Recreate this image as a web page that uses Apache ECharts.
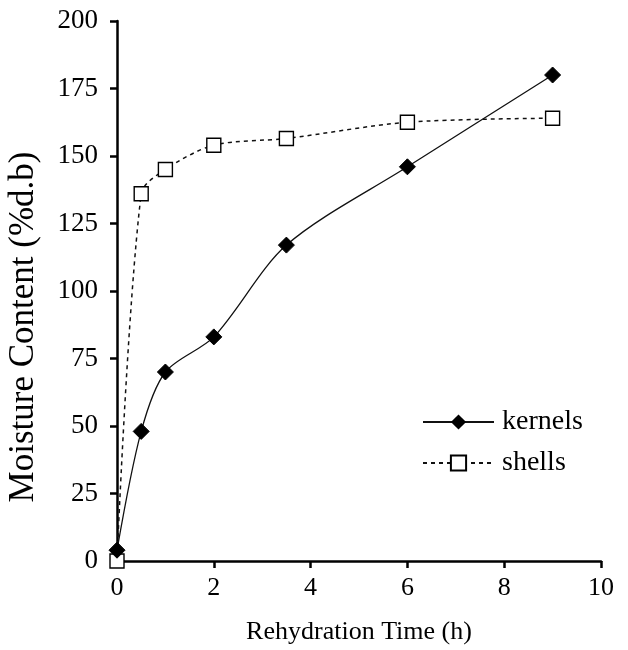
<!DOCTYPE html>
<html>
<head>
<meta charset="utf-8">
<script src="https://cdn.jsdelivr.net/npm/echarts@6/dist/echarts.min.js"></script>
<style>html,body{margin:0;padding:0;background:#fff}#c{width:628px;height:650px}</style>
</head>
<body>
<div id="c"></div>
<script>
const timesKernels = [0, 0.5, 1, 2, 3.5, 6, 9];
const kernels = [4, 48, 70, 83, 117, 146, 180];
const timesShells = [0, 0.5, 1, 2, 3.5, 6, 9];
const shells = [0, 136, 145, 154, 156.5, 162.5, 164];
const xTicks = [0, 2, 4, 6, 8, 10];
const yTicks = [0, 25, 50, 75, 100, 125, 150, 175, 200];

const font = 'Liberation Serif';
const chart = echarts.init(document.getElementById('c'), null, {renderer: 'canvas'});
chart.setOption({
  animation: false,
  backgroundColor: '#fff',
  grid: {left: 117, right: 27, top: 21, bottom: 85, containLabel: false},
  legend: {
    orient: 'vertical', left: 417, top: 403, itemGap: 13,
    itemWidth: 71, itemHeight: 19,
    textStyle: {fontFamily: font, fontSize: 28, color: '#000', padding: [0, 0, 0, 3]},
    data: ['kernels', 'shells']
  },
  graphic: [{
    type: 'text', x: 24, y: 327, rotation: Math.PI / 2,
    style: {text: 'Moisture Content (%d.b)', font: '35px "Liberation Serif"', fill: '#000',
            align: 'center', verticalAlign: 'middle'}
  }],
  xAxis: {
    type: 'value', min: xTicks[0], max: xTicks[xTicks.length - 1], interval: xTicks[1] - xTicks[0],
    name: 'Rehydration Time (h)', nameLocation: 'middle', nameGap: 58,
    nameTextStyle: {fontFamily: font, fontSize: 26, color: '#000'},
    axisLine: {lineStyle: {color: '#000', width: 2.5}},
    axisTick: {show: true, inside: false, length: 7, lineStyle: {color: '#000', width: 2.5}},
    axisLabel: {fontFamily: font, fontSize: 26, color: '#000', margin: 14},
    splitLine: {show: false}
  },
  yAxis: {
    type: 'value', min: yTicks[0], max: yTicks[yTicks.length - 1], interval: yTicks[1] - yTicks[0],
    axisLine: {show: true, lineStyle: {color: '#000', width: 2.5}},
    axisTick: {show: true, inside: false, length: 7, lineStyle: {color: '#000', width: 2.5}},
    axisLabel: {fontFamily: font, fontSize: 27, color: '#000', margin: 19},
    splitLine: {show: false}
  },
  series: [
    {
      name: 'kernels', type: 'line', smooth: 0.3,
      data: timesKernels.map((t, i) => [t, kernels[i]]),
      symbol: 'diamond', symbolSize: 16,
      lineStyle: {color: '#111', width: 1.3, type: 'solid'},
      itemStyle: {color: '#000', borderColor: '#000'},
      z: 3
    },
    {
      name: 'shells', type: 'line', smooth: 0.3,
      data: timesShells.map((t, i) => [t, shells[i]]),
      symbol: 'rect', symbolSize: 14,
      lineStyle: {color: '#111', width: 1.5, type: [4, 4]},
      itemStyle: {color: '#fff', borderColor: '#000', borderWidth: 1.4},
      z: 2
    }
  ]
});
</script>
</body>
</html>
